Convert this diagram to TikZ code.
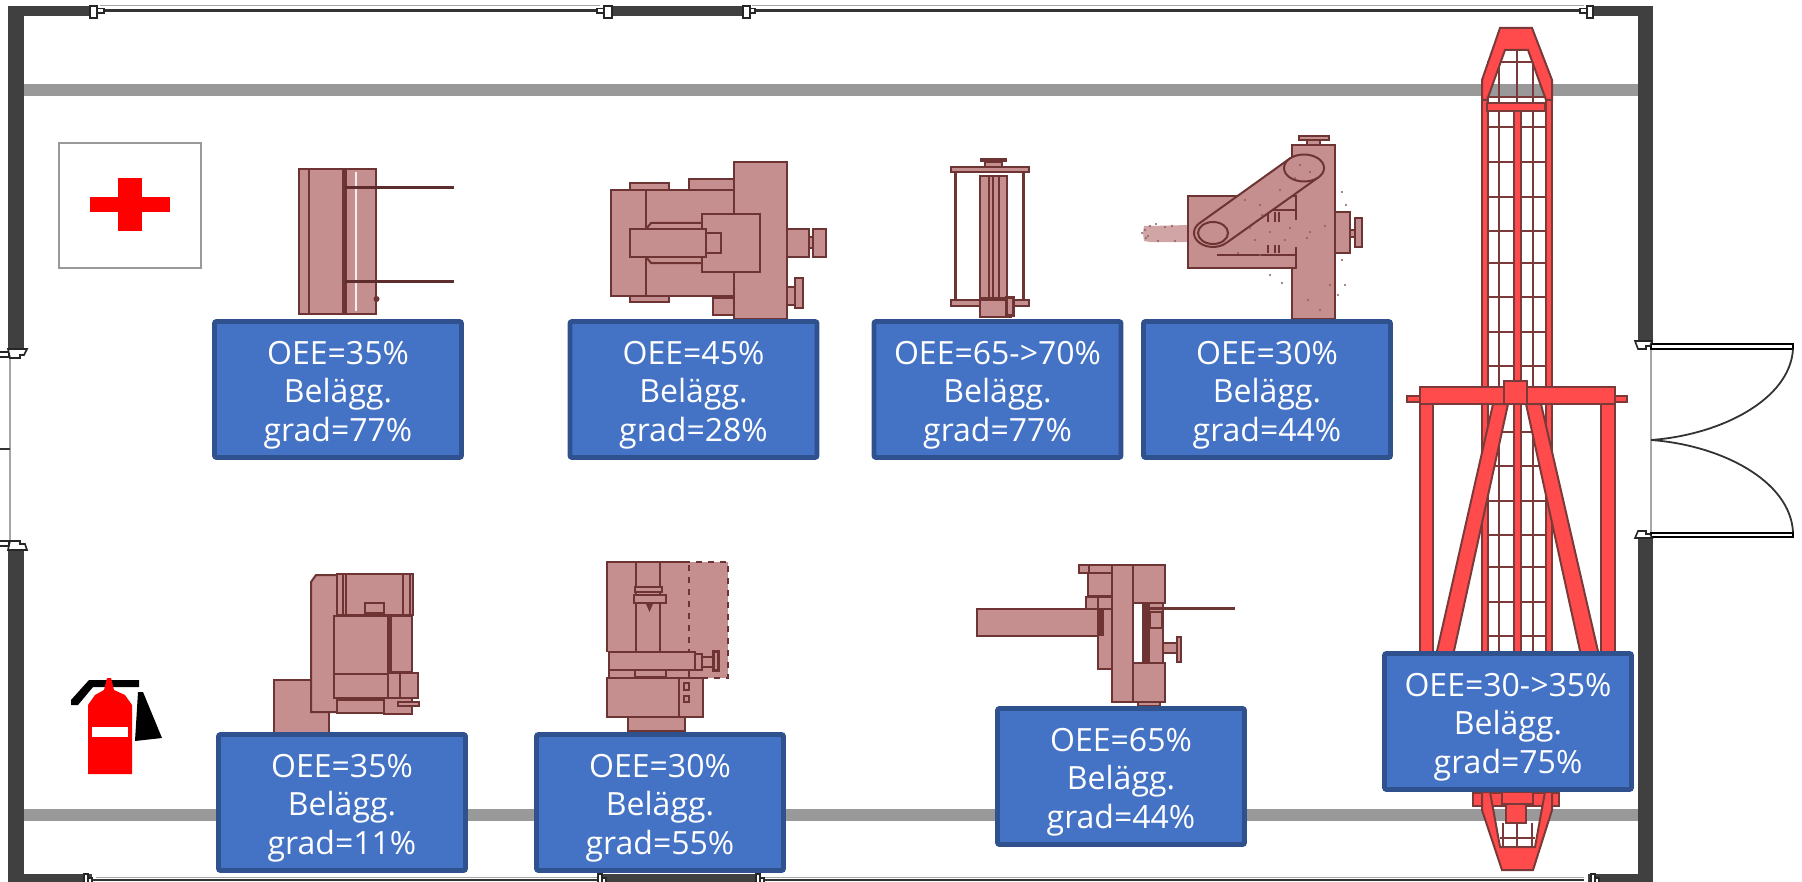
\documentclass[tikz,border=0pt]{standalone}
\usepackage{fontspec}
\setmainfont{Open Sans}
\definecolor{wallc}{HTML}{404040}
\definecolor{stripc}{HTML}{999999}
\definecolor{machf}{HTML}{C58F8F}
\definecolor{machd}{HTML}{6E3434}
\definecolor{redf}{HTML}{FF4B4B}
\definecolor{redd}{HTML}{7A3A3A}
\definecolor{boxf}{HTML}{4472C4}
\definecolor{boxd}{HTML}{2F528F}
\newcommand{\kpi}[3]{\rule{0pt}{17pt}#1\\#2\\#3}
\tikzset{
  x=0.5pt,y=-0.5pt,
  wall/.style={fill=wallc,draw=none},
  strip/.style={fill=stripc,draw=none},
  mach/.style={fill=machf,draw=machd,line width=1pt,line join=miter},
  mline/.style={draw=machd,line width=1pt},
  mthick/.style={draw=machd,line width=2.2pt},
  redm/.style={fill=redf,draw=redd,line width=1pt},
  rline/.style={draw=redd,line width=1.1pt},
  marker/.style={fill=white,draw=black!85,line width=0.8pt},
  kpibox/.style={fill=boxf,draw=boxd,line width=2.4pt,rounded corners=1pt,inner sep=0pt,
    minimum width=123.5pt,minimum height=68pt,align=center,text=white,
    font=\fontsize{16}{19.2}\selectfont},
}
\begin{document}
\begin{tikzpicture}
\useasboundingbox (0,0) rectangle (1802,882);
% gray strips
\fill[strip] (24,84) rectangle (1638,96);
\fill[strip] (24,809) rectangle (1638,821);
% walls
\fill[wall] (8,6) rectangle (92,16);
\fill[wall] (8,6) rectangle (24,350);
\fill[wall] (8,548) rectangle (24,882);
\fill[wall] (8,874) rectangle (92,882);
\fill[wall] (606,6) rectangle (746,16);
\fill[wall] (600,874) rectangle (760,882);
\fill[wall] (1588,6) rectangle (1653,16);
\fill[wall] (1588,874) rectangle (1653,882);
\fill[wall] (1638,6) rectangle (1653,345);
\fill[wall] (1638,535) rectangle (1653,882);
% windows
\draw[black!35,line width=0.5pt] (100,5.5) -- (600,5.5) (752,5.5) -- (1584,5.5);
\draw[black!80,line width=1.3pt] (100,10.5) -- (600,10.5) (752,10.5) -- (1584,10.5);
\draw[black!35,line width=0.5pt] (96,877.5) -- (600,877.5) (764,877.5) -- (1584,877.5);
\draw[black!80,line width=1.3pt] (92,880) -- (600,880) (764,880) -- (1584,880);
% wall end markers top
\foreach \a/\b/\c in {97/104/90, 604/597/612, 750/755/743, 1587/1580/1593}{
  \draw[marker] (\a,8.5) rectangle (\b,13);
  \draw[marker] (\a,6) rectangle (\c,18);
}
% wall end markers bottom
\foreach \a in {86,600,758,1593}{
  \draw[marker] (\a-2,882) -- (\a-2,874) -- (\a+2,874) -- (\a+2,882);
  \draw[marker] (\a+2,882) -- (\a+2,878) -- (\a+6,878) -- (\a+6,882);
}
% left door
\draw[black!35,line width=1pt] (9.5,356) -- (9.5,541);
\draw[marker] (0,352) -- (9,352) -- (9,357) -- (0,357);
\draw[black!80,line width=0.8pt] (0,449) -- (10,449);
\draw[marker] (0,541) -- (9,541) -- (9,546) -- (0,546);
\draw[marker] (8,349) -- (27,349) -- (24,355) -- (20,355) -- (20,358) -- (10,358) -- cycle;
\draw[marker] (10,541) -- (20,541) -- (20,544) -- (25,544) -- (27,550) -- (8,550) -- cycle;
% right door
\draw[black!35,line width=0.7pt] (1651,348) -- (1651,534);
\draw[marker,draw=black,line width=1pt] (1651,343.5) rectangle (1793,348.5);
\draw[marker,draw=black,line width=1pt] (1651,532.5) rectangle (1793,537);
\draw[black!80,line width=0.9pt] (1793,349) .. controls (1790,400) and (1720,435) .. (1651,440);
\draw[black!80,line width=0.9pt] (1793,532) .. controls (1790,480) and (1720,445) .. (1651,440);
\draw[marker] (1635,341) -- (1652,341) -- (1650,346) -- (1646,346) -- (1646,349) -- (1638,349) -- cycle;
\draw[marker] (1638,531) -- (1646,531) -- (1646,534) -- (1650,534) -- (1652,538) -- (1635,538) -- cycle;
% first aid
\draw[black!40,fill=white,line width=0.7pt] (59,143) rectangle (201,268);
\fill[red] (90,197) rectangle (170,212);
\fill[red] (118,178) rectangle (142,231);
% fire extinguisher
\fill[black] (71,700) -- (89,680) -- (139,680) -- (139,687) -- (93,687) -- (78,705) -- (71,705) -- cycle;
\fill[black] (138,692) -- (143,692) -- (162,738) -- (135,741) -- cycle;
\fill[red] (88,774) -- (88,705) -- (95,695) -- (104,690) -- (107,678) -- (111,678) -- (114,690) -- (125,695) -- (132,705) -- (132,774) -- cycle;
\fill[white] (92,727) rectangle (128,737);
% machine 1
\draw[mach] (299,169) rectangle (376,314);
\draw[mline] (309,169) -- (309,314);
\draw[white!85!machf,line width=1.2pt] (356,172) -- (356,311);
\draw[mthick] (344.5,169) -- (344.5,314);
\draw[draw=machd!85!black,line width=1.8pt] (345,187.5) -- (454,187.5) (345,281.5) -- (454,281.5);
\fill[machd] (376.5,299) circle (3);
% machine 2
\foreach \a/\b/\c/\d in {630/183/669/190, 689/179/734/190, 630/296/669/302, 713/298/734/315, 734/162/787/319, 611/190/734/296}
  \draw[mach] (\a,\b) rectangle (\c,\d);
\draw[mline] (646,190) -- (646,296);
\draw[mach] (646,229) -- (651,223) -- (702,223) -- (702,263) -- (651,263) -- (646,257) -- cycle;
\foreach \a/\b/\c/\d in {702/214/760/272, 630/229/706/257, 706/233/721/253, 787/229/809/257, 809/237/813/248, 813/229/825.5/257, 787/287/795/305, 795/278/803/308}
  \draw[mach] (\a,\b) rectangle (\c,\d);
% machine 3
\foreach \a/\b/\c/\d in {951/167/1029/172, 951/300/1029/306, 980/176/1007/298, 985/162/1002/167}
  \draw[mach] (\a,\b) rectangle (\c,\d);
\draw[draw=machd,line width=1.7pt] (955.5,172) -- (955.5,300) (1023.5,172) -- (1023.5,300);
\draw[mline] (989,176) -- (989,298) (993,176) -- (993,298) (999,176) -- (999,298);
\fill[machd] (980,158) rectangle (1007,162.5);
\draw[mach] (980,300) rectangle (1011,317);
\draw[mach,line width=1.5pt] (1006,297) rectangle (1013,315);
% machine 4
\fill[machf!80!white] (1144,226) -- (1150,226) -- (1189,225) -- (1189,242) -- (1150,242) -- (1144,241) -- (1143,233) -- cycle;
\foreach \px/\py in {1145/230,1148/236,1150/226,1156/224,1158/241,1165/227,1172/226,1175/241,1146/238,1142/233}
  \fill[machd!80] (\px,\py) circle (1.2);
\draw[mach] (1292,145) rectangle (1335,319);
\draw[mach] (1306.5,140) rectangle (1320,145);
\draw[mach] (1299,136) rectangle (1328.5,140);
\draw[mach] (1335,212) rectangle (1350,253);
\draw[mach] (1350,230) rectangle (1355,237);
\draw[mach] (1355,218) rectangle (1362,247);
\draw[mach] (1188,196) rectangle (1296,268);
\fill[machf] (1233,220) rectangle (1334,247);
\draw[mline] (1263,210) -- (1296,210);
\draw[mline] (1217,255) -- (1296,255);
\draw[mline] (1268,212) -- (1268,253) (1279,212) -- (1279,253) (1275,212) -- (1275,253);
\fill[machf] (1233,222) rectangle (1334,245);
\draw[mline] (1296,196) -- (1296,214) (1296,250) -- (1296,268);
% belt
\fill[machf] (1199.8,223) -- (1290.1,158.3) -- (1317.9,177.7) -- (1226.2,243) -- cycle;
\fill[machf] (1213,233) ellipse (19 and 14);
\draw[mline] (1199.8,223) -- (1290.1,158.3) (1317.9,177.7) -- (1226.2,243);
\draw[mline] (1226.2,243) arc[start angle=45.9,delta angle=180,x radius=19,y radius=14];
\draw[mach] (1304,168) ellipse (20 and 13.5);
\draw[mline] (1213,233) ellipse (15 and 11);
\foreach \px/\py in {1250/228,1270/232,1290/228,1310/232,1325/226,1255/240,1285/240,1307/238,1262/215,1245/200,1260/205,1280/190,1300/165,1310/172,1295/178,1342/192,1346/205,1342/260,1345/285,1338/295,1270/275,1282/283,1308/300,1320/310,1238/253,1260/255,1330/285}
  \fill[machd!80] (\px,\py) circle (1.2);
% machine 5
\draw[mach] (274,680) rectangle (329,735);
\draw[mach] (311,582) -- (316,575) -- (337,575) -- (337,712) -- (311,712) -- cycle;
\foreach \a/\b/\c/\d in {337/574/413/615, 365/603/384/613, 334/616/388/674, 391/616/412/672, 334/674/388/698, 388/673/418/698, 337/700/384/713, 384/698/412/714, 398/702/419/706}
  \draw[mach] (\a,\b) rectangle (\c,\d);
\draw[mline] (343,574) -- (343,615) (346,574) -- (346,615) (403,574) -- (403,615) (410,574) -- (410,615) (400,673) -- (400,698);
\draw[draw=machd,line width=1.4pt] (389,616) -- (389,674);
% machine 6
\fill[machf] (607,562) rectangle (728,652);
\fill[machf] (684,652) rectangle (728,678);
\draw[mline,dashed] (684,562) -- (728,562) -- (728,678) -- (689,678);
\draw[mline,dashed] (689,565) -- (689,652);
\draw[mline] (690,562) -- (607,562) -- (607,652);
\foreach \a/\b/\c/\d in {636/562/660/652, 609/652/695/670, 609/670/689/678, 635/670/666/677, 635/587/662/592, 634/595/666/603, 695/654/701.5/670, 701.5/657/714/667, 607/678/679/717, 679/678/703/717, 684/683/689/690, 684/696/689/702, 628/717/685/731}
  \draw[mach] (\a,\b) rectangle (\c,\d);
\draw[mach,line width=1.5pt] (713,651) rectangle (718,670);
\fill[machd] (646,604) -- (653,604) -- (649.5,612) -- cycle;
% machine 7
\foreach \a/\b/\c/\d in {977/609/1098/636, 1079/565/1089/573, 1089/565/1112/573, 1088/573/1112/596, 1086/597/1098/609, 1098/597/1112/609, 1098/609/1112/669, 1138/702/1160/706, 1112/565/1133/702, 1133/565/1165/603, 1133/663/1165/702, 1146/603/1163/663, 1150/612/1162/628, 1163/643/1177/653}
  \draw[mach] (\a,\b) rectangle (\c,\d);
\fill[machd] (1099,609) rectangle (1103.5,636);
\fill[machd] (1142,603) rectangle (1150,663);
\draw[mach,line width=1.4pt] (1177,637) rectangle (1181,662);
\draw[machd,line width=1.6pt] (1146,608.5) -- (1235,608.5);
% machine 8: grid
\draw[rline] (1499,50) -- (1499,792) (1533,50) -- (1533,792) (1517,50) -- (1517,103);
\foreach \yy in {62,97,127,162,197,231,263,297,332,366,432,466,501,535,567,602,636,670}
  \draw[rline] (1487,\yy) -- (1546,\yy);
\draw[rline] (1503,823) -- (1503,848) (1532,823) -- (1532,848) (1517,823) -- (1517,848) (1500,838) -- (1535,838);
\draw[redm] (1513.5,111) rectangle (1520.5,792);
\draw[redm] (1482,80) rectangle (1487.5,810);
\draw[redm] (1546,80) rectangle (1552,810);
% nose top
\draw[redm] (1500,28) -- (1532,28) -- (1552,80) -- (1552,100) -- (1546,100) -- (1528,50) -- (1505,50) -- (1487,100) -- (1482,100) -- (1482,80) -- cycle;
\draw[redm] (1487,103) rectangle (1545,111);
% nose bottom
\draw[redm] (1473,793) rectangle (1559,806);
\draw[redm] (1502,792) rectangle (1533,804);
\draw[redm] (1506,804) rectangle (1526,823);
\draw[redm] (1482,792) -- (1482,810) -- (1502,870) -- (1533,870) -- (1552,810) -- (1552,792) -- (1545,792) -- (1535,847) -- (1500,847) -- (1490,792) -- cycle;
% crossbar and legs
\draw[redm] (1420,404) rectangle (1433,660);
\draw[redm] (1601,404) rectangle (1615,660);
\draw[redm] (1493,404) -- (1508,404) -- (1452,660) -- (1435,660) -- cycle;
\draw[redm] (1526,404) -- (1541,404) -- (1600,660) -- (1582,660) -- cycle;
\draw[redm] (1407,396) rectangle (1420,402);
\draw[redm] (1615,396) rectangle (1627,402);
\draw[redm] (1420,387) rectangle (1615,404);
\draw[redm] (1504,381) rectangle (1527,404);
% KPI boxes
\node[kpibox] (b1) at (338,389.5) {\kpi{OEE=35\%}{Belägg.}{grad=77\%}};
\node[kpibox] (b2) at (693.5,389.5) {\kpi{OEE=45\%}{Belägg.}{grad=28\%}};
\node[kpibox] (b3) at (997.5,389.5) {\kpi{OEE=65->70\%}{Belägg.}{grad=77\%}};
\node[kpibox] (b4) at (1267,389.5) {\kpi{OEE=30\%}{Belägg.}{grad=44\%}};
\node[kpibox] (b5) at (342,802.5) {\kpi{OEE=35\%}{Belägg.}{grad=11\%}};
\node[kpibox] (b6) at (660,802.5) {\kpi{OEE=30\%}{Belägg.}{grad=55\%}};
\node[kpibox] (b7) at (1121,776.5) {\kpi{OEE=65\%}{Belägg.}{grad=44\%}};
\node[kpibox] (b8) at (1508,721.5) {\kpi{OEE=30->35\%}{Belägg.}{grad=75\%}};
\end{tikzpicture}
\end{document}
